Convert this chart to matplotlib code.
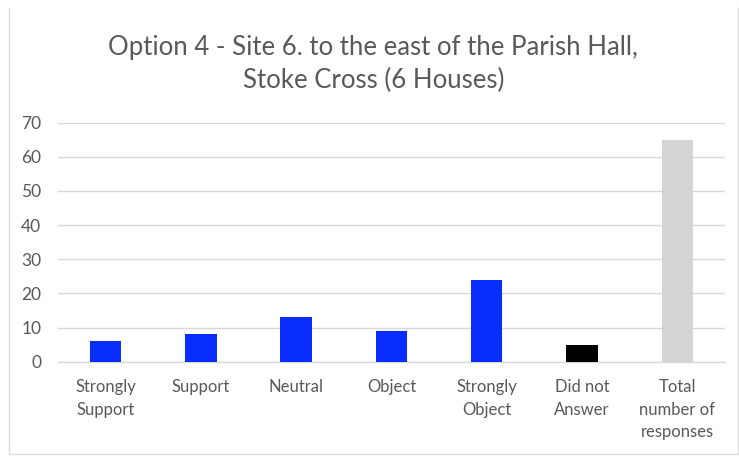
import matplotlib.pyplot as plt
from matplotlib.lines import Line2D

categories = ["Strongly\nSupport", "Support", "Neutral", "Object",
              "Strongly\nObject", "Did not\nAnswer", "Total\nnumber of\nresponses"]
counts = [6, 8, 13, 9, 24, 5, 65]
bar_colors = ["#0a2dff", "#0a2dff", "#0a2dff", "#0a2dff", "#0a2dff", "#000000", "#d4d4d4"]
yticks = [0, 10, 20, 30, 40, 50, 60, 70]

TEXT = "#595959"
GRID = "#d9d9d9"

plt.rcParams['font.family'] = ['Lato', 'DejaVu Sans']

fig = plt.figure(figsize=(7.39, 4.61), dpi=100)
ax = fig.add_axes([0.0785, 0.2154, 0.9025, 0.5186])

x = range(len(categories))
ax.bar(x, counts, width=0.33, color=bar_colors, zorder=3)

ax.set_xlim(-0.5, len(categories) - 0.5)
ax.set_ylim(0, 70)
ax.set_yticks(yticks)
ax.set_xticks(list(x))
ax.set_xticklabels(categories, fontsize=12, color=TEXT, linespacing=1.5)
ax.tick_params(axis='y', labelsize=12.5, labelcolor=TEXT, length=0, pad=12)
ax.tick_params(axis='x', length=0, pad=12.5)
ax.grid(axis='y', color=GRID, linewidth=1, zorder=0)
for s in ["top", "right", "left"]:
    ax.spines[s].set_visible(False)
ax.spines["bottom"].set_color(GRID)
ax.spines["bottom"].set_linewidth(1)

fig.text(0.505, 0.861, "Option 4 - Site 6. to the east of the Parish Hall,\nStoke Cross (6 Houses)",
         ha="center", va="center", fontsize=18.5, color=TEXT, linespacing=1.4)

# chart border (left, bottom, right)
bx0, bx1 = 8.5 / 739, 737.5 / 739
by0, by1 = 1 - 453.5 / 461, 1 - 8 / 461
fig.lines.append(Line2D([bx0, bx0, bx1, bx1], [by1, by0, by0, by1],
                        transform=fig.transFigure, color="#dcdcdc", linewidth=1))

fig.savefig("out.png", dpi=100)
